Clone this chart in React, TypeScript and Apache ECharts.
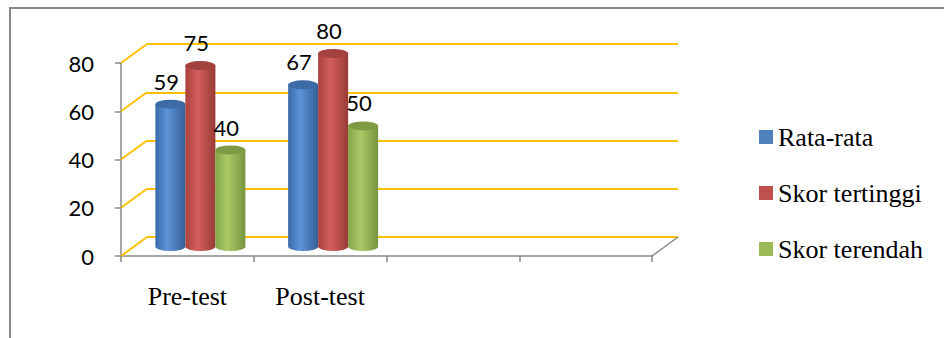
import React, { useEffect, useRef } from "react";
import * as echarts from "echarts";

const categories = ["Pre-test", "Post-test", "", ""];
const seriesNames = ["Rata-rata", "Skor tertinggi", "Skor terendah"];
const rataRata = [59, 67];
const skorTertinggi = [75, 80];
const skorTerendah = [40, 50];
const yTicks = [0, 20, 40, 60, 80];

const seriesValues = [rataRata, skorTertinggi, skorTerendah];
const palettes = [
  { main: "#4F81BD", left: "#3C6AA8", light: "#5D94D8", right: "#355F95", top: "#3D6BA6" },
  { main: "#C0504D", left: "#A8403D", light: "#D4605C", right: "#983A37", top: "#A3413E" },
  { main: "#9BBB59", left: "#83A447", light: "#AACA66", right: "#779540", top: "#7E9B44" },
];

const SERIF = "Liberation Serif";
const FRONT_LEFT = 121;
const FRONT_TOP = 63;
const DEPTH_X = 26;
const DEPTH_Y = 19;
const PLOT_W = 531;
const PLOT_H = 193;
const BAR_FRAC = 30 / 132.75;
const LEGEND_X = 759;
const LEGEND_Y0 = 137;
const LEGEND_STEP = 56;

export default function App() {
  const ref = useRef<HTMLDivElement>(null);
  useEffect(() => {
    if (!ref.current) return;
    const chart = echarts.init(ref.current, null, { renderer: "svg" });
    const gray = "#898989";
    const yellow = "#FFC000";
    const valueAxisBase = { type: "value", min: 0, max: 80, interval: 20 };
    const option: any = {
      animation: false,
      backgroundColor: "#fff",
      grid: [
        { left: FRONT_LEFT + DEPTH_X, top: FRONT_TOP - DEPTH_Y, width: PLOT_W, height: PLOT_H },
        { left: FRONT_LEFT, top: FRONT_TOP, width: PLOT_W, height: PLOT_H },
        { left: FRONT_LEFT + DEPTH_X / 2, top: FRONT_TOP - DEPTH_Y / 2, width: PLOT_W, height: PLOT_H },
      ],
      xAxis: [
        { gridIndex: 0, type: "category", data: categories, show: false },
        {
          gridIndex: 1,
          type: "category",
          data: categories,
          axisLine: { lineStyle: { color: gray, width: 1.5 } },
          axisTick: { show: true, length: 6, lineStyle: { color: gray, width: 1.5 } },
          axisLabel: { interval: 0, fontFamily: SERIF, fontSize: 26, color: "#000", margin: 27 },
        },
        { gridIndex: 2, type: "category", data: categories, show: false },
      ],
      yAxis: [
        {
          ...valueAxisBase,
          gridIndex: 0,
          axisLine: { show: false },
          axisTick: { show: false },
          axisLabel: { show: false },
          splitLine: { show: true, lineStyle: { color: yellow, width: 2 } },
        },
        {
          ...valueAxisBase,
          gridIndex: 1,
          axisLine: { show: true, lineStyle: { color: gray, width: 1.5 } },
          axisTick: { show: true, length: 6, lineStyle: { color: gray, width: 1.5 } },
          axisLabel: { fontFamily: "Lato", fontSize: 22, color: "#000", margin: 27 },
          splitLine: { show: false },
        },
        { ...valueAxisBase, gridIndex: 2, show: false, splitLine: { show: false } },
      ],
      series: seriesNames.map((name, sIdx) => {
        const pal = palettes[sIdx];
        return {
          type: "custom",
          name,
          xAxisIndex: 2,
          yAxisIndex: 2,
          itemStyle: { color: pal.main },
          encode: { x: 0, y: 1 },
          data: seriesValues[sIdx].map((v, i) => [i, v]),
          z: 5,
          renderItem: (params: any, api: any) => {
            const cat = api.value(0);
            const val = api.value(1);
            const base = api.coord([cat, 0]);
            const top = api.coord([cat, val]);
            const catW = api.size([1, 0])[0];
            const bw = catW * BAR_FRAC;
            const cx = base[0] + (sIdx - 1) * bw;
            const x0 = cx - bw / 2;
            const x1 = cx + bw / 2;
            const rx = bw / 2;
            const ry = 4.5;
            const yb = base[1];
            const yt = top[1];
            const body = `M${x0},${yt} L${x0},${yb} A${rx},${ry} 0 0 0 ${x1},${yb} L${x1},${yt} Z`;
            const cap = `M${x0},${yt} A${rx},${ry} 0 1 0 ${x1},${yt} A${rx},${ry} 0 1 0 ${x0},${yt} Z`;
            return {
              type: "group",
              children: [
                {
                  type: "path",
                  shape: { pathData: body },
                  style: {
                    fill: new echarts.graphic.LinearGradient(0, 0, 1, 0, [
                      { offset: 0, color: pal.left },
                      { offset: 0.4, color: pal.light },
                      { offset: 1, color: pal.right },
                    ]),
                  },
                },
                {
                  type: "path",
                  shape: { pathData: cap },
                  style: { fill: pal.top },
                },
                {
                  type: "text",
                  x: cx - 4,
                  y: yt - 23,
                  style: {
                    text: String(val),
                    fill: "#000",
                    font: '22px "Lato"',
                    align: "center",
                    verticalAlign: "middle",
                  },
                },
              ],
            };
          },
        };
      }),
    };
    chart.setOption(option);

    const graphics: any[] = [];
    yTicks.forEach((v) => {
      const yf = chart.convertToPixel({ yAxisIndex: 1 } as any, v) as any as number;
      const yb = chart.convertToPixel({ yAxisIndex: 0 } as any, v) as any as number;
      graphics.push({
        type: "line",
        shape: { x1: FRONT_LEFT, y1: yf, x2: FRONT_LEFT + DEPTH_X, y2: yb },
        style: { stroke: yellow, lineWidth: 2 },
        z: 1,
      });
    });
    const yf0 = chart.convertToPixel({ yAxisIndex: 1 } as any, 0) as any as number;
    const yb0 = chart.convertToPixel({ yAxisIndex: 0 } as any, 0) as any as number;
    graphics.push({
      type: "line",
      shape: { x1: FRONT_LEFT + PLOT_W, y1: yf0, x2: FRONT_LEFT + PLOT_W + DEPTH_X, y2: yb0 },
      style: { stroke: gray, lineWidth: 1.5 },
      z: 1,
    });
    graphics.push({
      type: "rect",
      shape: { x: 10, y: 8, width: 1000, height: 400 },
      style: { fill: "none", stroke: gray, lineWidth: 2 },
      z: 0,
    });
    // legend
    seriesNames.forEach((name, i) => {
      const cy = LEGEND_Y0 + i * LEGEND_STEP;
      graphics.push({
        type: "rect",
        shape: { x: LEGEND_X, y: cy - 7, width: 14, height: 14 },
        style: { fill: palettes[i].main },
        z: 2,
      });
      graphics.push({
        type: "text",
        x: LEGEND_X + 19,
        y: cy,
        style: {
          text: name,
          fill: "#000",
          font: `26px "${SERIF}"`,
          align: "left",
          verticalAlign: "middle",
        },
        z: 2,
      });
    });
    chart.setOption({ graphic: graphics });

    return () => chart.dispose();
  }, []);
  return (
    <div
      ref={ref}
      style={{ position: "fixed", left: 0, top: 0, width: 944, height: 338, background: "#fff" }}
    />
  );
}
